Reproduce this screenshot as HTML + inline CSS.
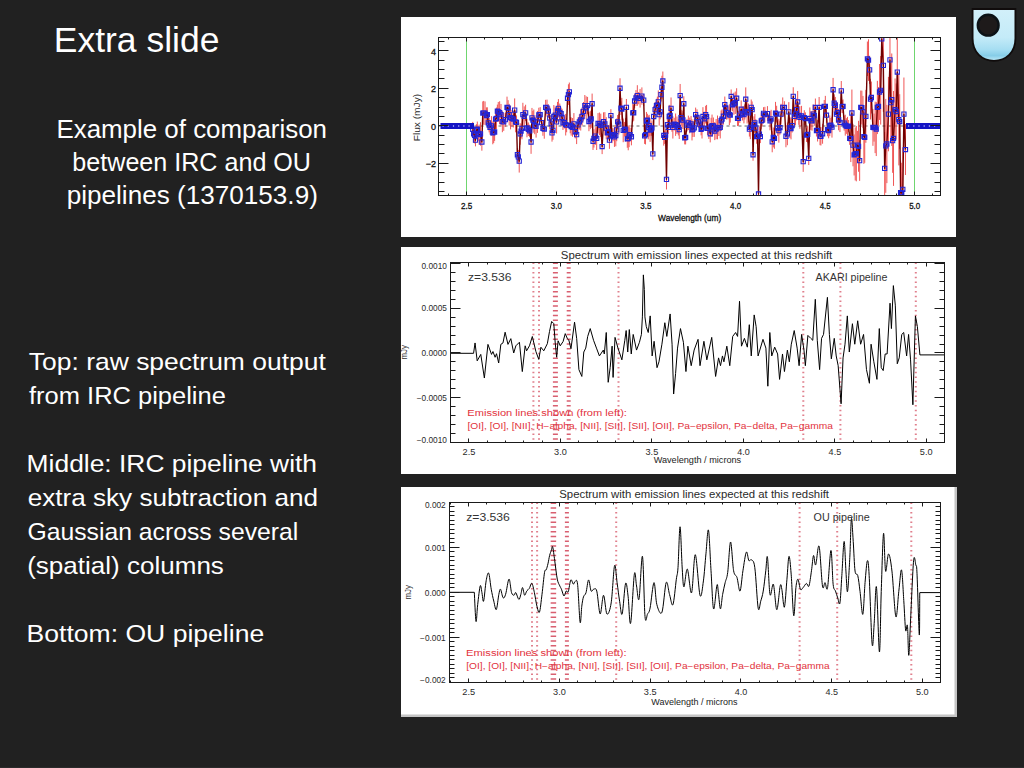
<!DOCTYPE html>
<html><head><meta charset="utf-8"><title>Extra slide</title>
<style>html,body{margin:0;padding:0;background:#212121;width:1024px;height:768px;overflow:hidden}svg{display:block}text{font-family:"Liberation Sans",sans-serif}</style>
</head><body>
<svg width="1024" height="768" viewBox="0 0 1024 768" font-family="Liberation Sans, sans-serif">
<rect width="1024" height="768" fill="#212121"/>
<rect x="0" y="767" width="1024" height="1" fill="#2b2b2b"/>
<text x="53.76" y="51.70" font-size="35" fill="#ffffff" textLength="165.66" lengthAdjust="spacingAndGlyphs" >Extra slide</text>
<text x="56.43" y="138.30" font-size="25.5" fill="#ffffff" textLength="270.54" lengthAdjust="spacingAndGlyphs" >Example of comparison</text>
<text x="72.37" y="170.90" font-size="25.5" fill="#ffffff" textLength="238.61" lengthAdjust="spacingAndGlyphs" >between IRC and OU</text>
<text x="66.70" y="203.50" font-size="25.5" fill="#ffffff" textLength="251.16" lengthAdjust="spacingAndGlyphs" >pipelines (1370153.9)</text>
<text x="28.87" y="369.70" font-size="24.8" fill="#ffffff" textLength="296.93" lengthAdjust="spacingAndGlyphs" >Top: raw spectrum output</text>
<text x="29.02" y="403.60" font-size="24.8" fill="#ffffff" textLength="196.84" lengthAdjust="spacingAndGlyphs" >from IRC pipeline</text>
<text x="26.64" y="471.60" font-size="24.8" fill="#ffffff" textLength="290.38" lengthAdjust="spacingAndGlyphs" >Middle: IRC pipeline with</text>
<text x="27.71" y="505.60" font-size="24.8" fill="#ffffff" textLength="290.29" lengthAdjust="spacingAndGlyphs" >extra sky subtraction and</text>
<text x="27.51" y="539.60" font-size="24.8" fill="#ffffff" textLength="270.80" lengthAdjust="spacingAndGlyphs" >Gaussian across several</text>
<text x="27.19" y="573.60" font-size="24.8" fill="#ffffff" textLength="196.68" lengthAdjust="spacingAndGlyphs" >(spatial) columns</text>
<text x="26.63" y="641.60" font-size="24.8" fill="#ffffff" textLength="237.54" lengthAdjust="spacingAndGlyphs" >Bottom: OU pipeline</text>
<rect x="401" y="17" width="555" height="220" fill="#ffffff"/>
<clipPath id="c1"><rect x="438.5" y="37.5" width="502.0" height="158.0"/></clipPath>
<g clip-path="url(#c1)"><line x1="466.50" y1="37.50" x2="466.50" y2="195.50" stroke="#6fd66f" stroke-width="1" /><line x1="914.50" y1="37.50" x2="914.50" y2="195.50" stroke="#6fd66f" stroke-width="1" /><line x1="438.50" y1="126.00" x2="940.50" y2="126.00" stroke="#666" stroke-width="1" stroke-dasharray="3,3"/><path d="M472.76,121.89V136.61M473.67,124.70V142.91M474.58,127.13V143.40M475.49,134.01V146.36M476.40,124.16V136.50M477.31,121.57V136.92M478.22,125.83V140.94M479.13,124.56V144.87M480.50,122.19V145.66M481.87,133.32V150.69M482.78,101.44V124.68M483.69,100.92V124.78M485.06,101.46V124.92M486.42,107.39V123.77M487.33,107.32V121.96M488.25,115.51V130.23M489.16,118.03V132.39M490.07,120.20V134.65M491.44,116.12V135.61M492.80,121.49V144.29M493.71,120.96V143.05M494.62,123.10V140.86M495.54,109.12V128.96M496.45,107.52V129.11M497.36,104.59V117.61M498.27,101.97V121.90M499.64,101.27V124.18M501.00,103.98V125.36M502.37,111.20V132.21M503.74,113.09V130.83M505.38,112.63V126.77M507.02,96.65V118.12M508.11,100.16V116.15M509.20,103.86V125.47M510.57,105.71V129.37M511.94,109.94V126.69M513.30,110.69V127.51M514.67,98.43V121.79M515.58,111.61V132.31M516.49,115.40V129.44M517.40,148.00V161.52M518.31,150.03V163.84M519.23,149.71V172.57M520.14,123.09V144.77M521.05,124.19V137.95M521.96,117.39V139.31M522.87,102.79V126.55M524.24,106.36V126.24M525.60,104.74V120.95M526.97,118.69V137.28M528.34,122.46V136.03M529.70,124.68V136.85M531.07,130.18V153.83M531.98,107.95V127.74M532.89,110.98V129.30M533.80,109.49V132.69M534.72,117.00V134.21M536.08,115.14V137.60M537.45,111.00V132.92M538.82,107.74V122.27M540.18,107.16V122.18M541.55,114.90V130.42M542.92,120.89V135.78M544.28,119.65V138.69M545.65,99.82V114.94M547.02,99.64V116.67M548.38,104.24V117.81M549.75,106.59V129.52M551.12,115.66V131.90M552.03,124.14V141.64M552.94,120.77V139.77M553.85,105.07V127.92M555.22,106.61V123.66M556.58,110.45V133.47M557.49,101.94V119.96M558.41,99.10V117.48M559.77,103.56V121.84M561.14,107.65V119.87M562.05,108.84V126.12M562.96,115.77V129.97M564.33,116.44V128.49M565.69,113.90V135.49M566.61,118.17V132.24M567.52,89.43V107.11M568.43,84.27V104.97M569.34,82.55V101.23M570.25,117.36V133.27M571.16,117.40V135.62M572.53,118.06V136.73M573.90,113.08V134.49M575.26,125.11V138.38M576.63,125.35V144.08M578.00,117.35V132.33M579.36,114.30V129.62M580.73,109.28V130.55M582.10,107.45V125.54M583.46,101.97V120.71M584.83,95.00V116.12M586.20,96.33V119.28M587.56,96.90V114.22M588.93,111.84V131.19M590.30,111.10V129.17M591.21,109.79V127.94M592.12,93.58V113.89M593.03,132.53V149.96M593.94,129.16V147.56M595.31,127.20V144.94M596.67,126.71V150.01M598.04,113.09V133.49M599.41,112.52V135.04M600.77,113.67V136.98M602.14,139.00V154.12M603.51,112.34V131.05M604.87,112.12V135.44M606.24,117.17V139.25M607.61,126.07V139.72M608.52,125.03V138.49M609.43,131.53V148.83M610.89,109.15V122.02M611.98,128.28V143.17M613.08,128.28V141.15M614.44,126.89V146.92M615.81,124.92V146.33M616.72,118.45V141.21M617.63,115.03V128.89M618.83,113.92V134.51M620.02,78.28V98.20M620.93,101.22V114.94M621.84,97.90V120.50M623.21,118.61V142.22M624.58,121.92V136.56M625.49,118.09V141.52M626.40,98.99V115.77M627.31,129.91V147.76M628.22,126.41V150.29M629.13,125.18V147.17M630.04,127.74V141.68M631.41,128.16V145.34M632.78,103.75V121.94M633.69,104.71V120.78M634.60,93.82V108.17M635.97,90.11V105.94M637.33,85.20V105.86M638.70,92.04V104.27M640.07,88.94V107.59M641.89,87.42V104.70M643.71,93.98V106.20M644.62,127.93V143.91M645.53,124.96V144.45M646.44,111.94V130.09M647.35,113.75V126.52M648.27,115.53V139.35M649.18,114.87V136.33M650.09,118.23V141.89M651.00,122.61V135.87M651.91,120.36V135.54M652.82,147.60V160.08M653.73,105.81V127.16M655.10,101.96V117.21M656.47,98.78V112.33M657.38,96.58V113.65M658.29,90.44V113.38M659.20,103.75V125.58M660.11,104.25V119.35M661.02,87.72V101.52M661.93,75.73V98.76M662.84,71.53V90.38M663.75,125.25V145.65M664.66,130.90V143.98M665.58,128.80V141.49M666.49,169.22V189.48M667.40,116.22V133.33M668.31,120.99V133.85M669.22,104.86V128.12M670.13,105.51V125.12M671.04,97.48V119.10M671.95,118.69V131.70M672.86,116.28V138.56M674.23,117.73V130.52M675.60,113.51V135.86M676.96,116.50V133.94M678.33,119.38V135.45M679.24,120.33V138.97M680.15,83.97V107.09M681.06,110.01V125.22M681.98,113.36V126.91M682.89,110.66V128.99M683.80,96.30V111.16M684.71,131.08V144.40M685.62,130.47V144.41M686.99,118.86V131.47M688.35,115.65V130.08M689.72,117.54V133.28M691.09,115.95V131.61M692.00,119.33V140.44M692.91,121.50V136.98M694.27,118.91V136.91M695.64,107.60V121.73M697.01,109.35V125.51M698.37,115.84V128.06M699.74,116.63V131.64M701.11,123.15V135.33M702.02,117.71V138.51M702.93,107.18V125.79M704.30,111.69V125.96M705.66,105.82V123.51M706.57,104.93V128.15M707.49,121.69V134.97M708.85,117.15V138.97M710.22,125.20V142.39M711.13,117.80V135.74M712.04,114.59V136.61M713.41,117.50V134.21M714.77,122.02V140.10M716.14,118.99V139.25M717.51,115.53V139.31M718.87,119.90V136.01M720.24,116.43V138.41M721.15,110.49V130.97M722.06,109.40V129.04M723.43,107.82V124.67M724.80,96.56V112.73M725.71,101.53V114.18M726.62,106.06V119.62M727.98,106.40V119.25M729.35,104.22V125.11M730.26,107.53V122.60M731.17,89.46V103.42M732.54,98.28V111.29M733.91,92.68V114.78M735.27,91.54V113.99M736.64,88.24V108.29M737.55,110.71V126.09M738.46,110.86V125.76M739.83,107.34V122.86M741.20,100.44V117.95M742.56,106.62V120.51M743.93,105.99V123.34M744.84,104.41V119.57M745.75,87.41V110.95M747.12,99.85V123.52M748.48,103.56V122.13M749.40,121.63V136.57M750.31,115.63V139.21M751.22,99.52V115.23M752.13,101.48V117.76M753.04,148.75V160.76M753.95,116.36V132.94M754.86,114.02V131.71M755.77,119.15V137.19M756.68,129.32V143.74M757.59,126.90V144.95M758.51,187.90V199.96M759.42,126.57V141.74M760.33,129.99V143.07M761.24,112.54V129.33M762.15,113.88V126.38M763.52,107.20V119.47M764.88,106.84V122.49M767.44,106.14V120.93M770.00,111.24V130.27M771.11,109.83V128.18M772.21,131.28V152.29M773.32,127.48V147.37M774.43,128.17V148.76M775.53,101.88V124.43M776.64,105.78V122.45M777.75,120.08V135.99M778.85,118.81V142.63M779.96,120.82V134.62M781.07,103.77V124.46M782.73,97.45V117.17M784.39,101.21V113.74M785.94,125.24V147.26M787.38,122.51V145.21M788.82,102.14V121.67M789.92,117.28V138.09M791.03,117.63V139.38M792.14,118.82V132.49M793.24,87.26V105.55M794.35,107.34V125.39M795.46,103.11V125.13M796.56,98.72V120.37M797.67,90.98V112.90M798.78,105.82V124.83M799.88,106.08V128.79M801.54,105.85V126.05M803.20,151.55V171.87M804.31,110.25V125.01M805.42,112.36V124.73M806.52,128.35V141.94M807.63,126.17V142.49M808.74,151.76V165.02M809.84,107.48V129.51M810.95,111.40V130.11M812.06,111.15V130.69M813.16,104.36V123.87M814.27,105.63V125.80M815.38,98.54V116.41M816.48,124.49V136.53M817.59,119.93V141.50M819.14,96.99V117.96M820.03,127.14V145.17M820.91,127.04V145.46M822.57,123.81V143.72M824.23,99.97V112.76M825.34,95.87V116.72M826.45,107.71V122.74M827.55,123.33V136.22M828.66,123.12V138.31M829.77,115.38V136.13M830.87,117.95V132.41M831.98,116.72V137.60M833.09,77.91V101.62M834.19,94.27V112.19M835.30,96.97V113.56M836.41,105.24V122.99M837.51,102.34V122.54M838.62,109.05V130.25M839.95,112.65V132.06M841.28,81.02V100.73M842.16,100.07V113.00M843.05,99.48V113.25M844.15,115.54V130.59M845.26,114.72V135.64M846.37,118.20V133.85M847.47,116.88V135.70M848.58,120.01V132.16M849.69,132.10V144.83M850.80,115.23V162.04M851.90,89.55V136.47M853.01,123.87V166.34M854.12,134.42V175.47M855.22,127.45V180.47M856.33,125.95V181.34M857.44,130.86V159.35M858.54,120.80V171.76M859.65,140.31V180.89M860.76,90.54V124.41M861.86,90.67V124.57M862.97,95.92V127.89M863.86,109.22V163.90M864.74,111.87V162.84M865.85,89.91V142.75M867.40,41.54V76.02M868.50,39.30V80.91M869.61,55.79V83.89M870.50,78.83V119.46M871.38,81.54V113.48M872.93,108.97V145.82M874.04,113.57V141.62M875.14,101.65V153.14M876.25,102.10V156.04M877.36,80.85V134.10M878.46,87.24V125.66M879.57,64.00V119.96M880.68,56.04V124.59M881.79,12.41V65.30M883.33,18.96V111.87M884.66,132.08V204.61M885.77,98.92V192.82M886.88,104.86V183.14M888.43,76.93V151.30M889.98,18.31V101.46M890.86,63.17V142.10M891.75,53.48V145.97M892.63,108.33V172.83M893.52,91.03V185.90M895.07,78.47V140.91M896.17,83.51V139.54M897.28,26.31V117.80M898.83,73.90V165.40M899.71,94.21V148.91M900.60,160.49V224.90M901.71,162.75V223.15M902.81,147.38V231.37M903.92,77.54V150.70M905.47,124.04V175.02" stroke="#ee4444" stroke-width="1" fill="none" opacity="0.9"/><polyline points="472.76,129.25 473.67,133.80 474.58,135.26 475.49,140.18 476.40,130.33 477.31,129.25 478.22,133.38 479.13,134.72 480.50,133.92 481.87,142.00 482.78,113.06 483.69,112.85 485.06,113.19 486.42,115.58 487.33,114.64 488.25,122.87 489.16,125.21 490.07,127.43 491.44,125.87 492.80,132.89 493.71,132.00 494.62,131.98 495.54,119.04 496.45,118.31 497.36,111.10 498.27,111.94 499.64,112.73 501.00,114.67 502.37,121.70 503.74,121.96 505.38,119.70 507.02,107.38 508.11,108.15 509.20,114.67 510.57,117.54 511.94,118.31 513.30,119.10 514.67,110.11 515.58,121.96 516.49,122.42 517.40,154.76 518.31,156.93 519.23,161.14 520.14,133.93 521.05,131.07 521.96,128.35 522.87,114.67 524.24,116.30 525.60,112.85 526.97,127.99 528.34,129.25 529.70,130.77 531.07,142.00 531.98,117.84 532.89,120.14 533.80,121.09 534.72,125.60 536.08,126.37 537.45,121.96 538.82,115.00 540.18,114.67 541.55,122.66 542.92,128.34 544.28,129.17 545.65,107.38 547.02,108.16 548.38,111.03 549.75,118.06 551.12,123.78 552.03,132.89 552.94,130.27 553.85,116.49 555.22,115.14 556.58,121.96 557.49,110.95 558.41,108.29 559.77,112.70 561.14,113.76 562.05,117.48 562.96,122.87 564.33,122.46 565.69,124.69 566.61,125.21 567.52,98.27 568.43,94.62 569.34,91.89 570.25,125.31 571.16,126.51 572.53,127.40 573.90,123.78 575.26,131.75 576.63,134.72 578.00,124.84 579.36,121.96 580.73,119.92 582.10,116.49 583.46,111.34 584.83,105.56 586.20,107.81 587.56,105.56 588.93,121.51 590.30,120.14 591.21,118.86 592.12,103.74 593.03,141.24 593.94,138.36 595.31,136.07 596.67,138.36 598.04,123.29 599.41,123.78 600.77,125.32 602.14,146.56 603.51,121.69 604.87,123.78 606.24,128.21 607.61,132.89 608.52,131.76 609.43,140.18 610.89,115.58 611.98,135.72 613.08,134.72 614.44,136.90 615.81,135.63 616.72,129.83 617.63,121.96 618.83,124.21 620.02,88.24 620.93,108.08 621.84,109.20 623.21,130.41 624.58,129.24 625.49,129.81 626.40,107.38 627.31,138.83 628.22,138.35 629.13,136.17 630.04,134.71 631.41,136.75 632.78,112.84 633.69,112.75 634.60,101.00 635.97,98.02 637.33,95.53 638.70,98.15 640.07,98.27 641.89,96.06 643.71,100.09 644.62,135.92 645.53,134.71 646.44,121.01 647.35,120.13 648.27,127.44 649.18,125.60 650.09,130.06 651.00,129.24 651.91,127.95 652.82,153.84 653.73,116.49 655.10,109.59 656.47,105.55 657.38,105.11 658.29,101.91 659.20,114.66 660.11,111.80 661.02,94.62 661.93,87.24 662.84,80.95 663.75,135.45 664.66,137.44 665.58,135.14 666.49,179.35 667.40,124.77 668.31,127.42 669.22,116.49 670.13,115.32 671.04,108.29 671.95,125.20 672.86,127.42 674.23,124.12 675.60,124.69 676.96,125.22 678.33,127.42 679.24,129.65 680.15,95.53 681.06,117.61 681.98,120.13 682.89,119.83 683.80,103.73 684.71,137.74 685.62,137.44 686.99,125.16 688.35,122.86 689.72,125.41 691.09,123.78 692.00,129.89 692.91,129.24 694.27,127.91 695.64,114.66 697.01,117.43 698.37,121.95 699.74,124.13 701.11,129.24 702.02,128.11 702.93,116.49 704.30,118.82 705.66,114.66 706.57,116.54 707.49,128.33 708.85,128.06 710.22,133.80 711.13,126.77 712.04,125.60 713.41,125.86 714.77,131.06 716.14,129.12 717.51,127.42 718.87,127.95 720.24,127.42 721.15,120.73 722.06,119.22 723.43,116.24 724.80,104.64 725.71,107.86 726.62,112.84 727.98,112.83 729.35,114.66 730.26,115.06 731.17,96.44 732.54,104.79 733.91,103.73 735.27,102.77 736.64,98.27 737.55,118.40 738.46,118.31 739.83,115.10 741.20,109.20 742.56,113.57 743.93,114.66 744.84,111.99 745.75,99.18 747.12,111.68 748.48,112.84 749.40,129.10 750.31,127.42 751.22,107.38 752.13,109.62 753.04,154.75 753.95,124.65 754.86,122.86 755.77,128.17 756.68,136.53 757.59,135.92 758.51,193.93 759.42,134.15 760.33,136.53 761.24,120.94 762.15,120.13 763.52,113.34 764.88,114.66 767.44,113.53 770.00,120.76 771.11,119.01 772.21,141.79 773.32,137.43 774.43,138.46 775.53,113.16 776.64,114.12 777.75,128.03 778.85,130.72 779.96,127.72 781.07,114.12 782.73,107.31 784.39,107.47 785.94,136.25 787.38,133.86 788.82,111.90 789.92,127.69 791.03,128.50 792.14,125.66 793.24,96.41 794.35,116.36 795.46,114.12 796.56,109.55 797.67,101.94 798.78,115.33 799.88,117.44 801.54,115.95 803.20,161.71 804.31,117.63 805.42,118.54 806.52,135.14 807.63,134.33 808.74,158.39 809.84,118.49 810.95,120.76 812.06,120.92 813.16,114.12 814.27,115.72 815.38,107.47 816.48,130.51 817.59,130.72 819.14,107.47 820.03,136.15 820.91,136.25 822.57,133.77 824.23,106.37 825.34,106.29 826.45,115.22 827.55,129.77 828.66,130.72 829.77,125.76 830.87,125.18 831.98,127.16 833.09,89.77 834.19,103.23 835.30,105.26 836.41,114.12 837.51,112.44 838.62,119.65 839.95,122.36 841.28,90.87 842.16,106.54 843.05,106.37 844.15,123.06 845.26,125.18 846.37,126.02 847.47,126.29 848.58,126.08 849.69,138.46 850.80,138.63 851.90,113.01 853.01,145.11 854.12,154.95 855.22,153.96 856.33,153.64 857.44,145.11 858.54,146.28 859.65,160.60 860.76,107.47 861.86,107.62 862.97,111.90 863.86,136.56 864.74,137.36 865.85,116.33 867.40,58.78 868.50,60.10 869.61,69.84 870.50,99.15 871.38,97.51 872.93,127.40 874.04,127.59 875.14,127.40 876.25,129.07 877.36,107.47 878.46,106.45 879.57,91.98 880.68,90.32 881.79,38.85 883.33,65.42 884.66,168.35 885.77,145.87 886.88,144.00 888.43,114.12 889.98,59.88 890.86,102.64 891.75,99.73 892.63,140.58 893.52,138.46 895.07,109.69 896.17,111.52 897.28,72.06 898.83,119.65 899.71,121.56 900.60,192.70 901.71,192.95 902.81,189.38 903.92,114.12 905.47,149.53" fill="none" stroke="#700000" stroke-width="1.4" stroke-linejoin="round" /><path d="M470.66,127.15h4.2v4.2h-4.2zM471.57,131.70h4.2v4.2h-4.2zM472.48,133.16h4.2v4.2h-4.2zM473.39,138.08h4.2v4.2h-4.2zM474.30,128.23h4.2v4.2h-4.2zM475.21,127.15h4.2v4.2h-4.2zM476.12,131.28h4.2v4.2h-4.2zM477.03,132.62h4.2v4.2h-4.2zM478.40,131.82h4.2v4.2h-4.2zM479.77,139.90h4.2v4.2h-4.2zM480.68,110.96h4.2v4.2h-4.2zM481.59,110.75h4.2v4.2h-4.2zM482.96,111.09h4.2v4.2h-4.2zM484.32,113.48h4.2v4.2h-4.2zM485.23,112.54h4.2v4.2h-4.2zM486.15,120.77h4.2v4.2h-4.2zM487.06,123.11h4.2v4.2h-4.2zM487.97,125.33h4.2v4.2h-4.2zM489.34,123.77h4.2v4.2h-4.2zM490.70,130.79h4.2v4.2h-4.2zM491.61,129.90h4.2v4.2h-4.2zM492.52,129.88h4.2v4.2h-4.2zM493.44,116.94h4.2v4.2h-4.2zM494.35,116.21h4.2v4.2h-4.2zM495.26,109.00h4.2v4.2h-4.2zM496.17,109.84h4.2v4.2h-4.2zM497.54,110.63h4.2v4.2h-4.2zM498.90,112.57h4.2v4.2h-4.2zM500.27,119.60h4.2v4.2h-4.2zM501.64,119.86h4.2v4.2h-4.2zM503.28,117.60h4.2v4.2h-4.2zM504.92,105.28h4.2v4.2h-4.2zM506.01,106.05h4.2v4.2h-4.2zM507.10,112.57h4.2v4.2h-4.2zM508.47,115.44h4.2v4.2h-4.2zM509.84,116.21h4.2v4.2h-4.2zM511.20,117.00h4.2v4.2h-4.2zM512.57,108.01h4.2v4.2h-4.2zM513.48,119.86h4.2v4.2h-4.2zM514.39,120.32h4.2v4.2h-4.2zM515.30,152.66h4.2v4.2h-4.2zM516.21,154.83h4.2v4.2h-4.2zM517.13,159.04h4.2v4.2h-4.2zM518.04,131.83h4.2v4.2h-4.2zM518.95,128.97h4.2v4.2h-4.2zM519.86,126.25h4.2v4.2h-4.2zM520.77,112.57h4.2v4.2h-4.2zM522.14,114.20h4.2v4.2h-4.2zM523.50,110.75h4.2v4.2h-4.2zM524.87,125.89h4.2v4.2h-4.2zM526.24,127.15h4.2v4.2h-4.2zM527.60,128.67h4.2v4.2h-4.2zM528.97,139.90h4.2v4.2h-4.2zM529.88,115.74h4.2v4.2h-4.2zM530.79,118.04h4.2v4.2h-4.2zM531.70,118.99h4.2v4.2h-4.2zM532.62,123.50h4.2v4.2h-4.2zM533.98,124.27h4.2v4.2h-4.2zM535.35,119.86h4.2v4.2h-4.2zM536.72,112.90h4.2v4.2h-4.2zM538.08,112.57h4.2v4.2h-4.2zM539.45,120.56h4.2v4.2h-4.2zM540.82,126.24h4.2v4.2h-4.2zM542.18,127.07h4.2v4.2h-4.2zM543.55,105.28h4.2v4.2h-4.2zM544.92,106.06h4.2v4.2h-4.2zM546.28,108.93h4.2v4.2h-4.2zM547.65,115.96h4.2v4.2h-4.2zM549.02,121.68h4.2v4.2h-4.2zM549.93,130.79h4.2v4.2h-4.2zM550.84,128.17h4.2v4.2h-4.2zM551.75,114.39h4.2v4.2h-4.2zM553.12,113.04h4.2v4.2h-4.2zM554.48,119.86h4.2v4.2h-4.2zM555.39,108.85h4.2v4.2h-4.2zM556.31,106.19h4.2v4.2h-4.2zM557.67,110.60h4.2v4.2h-4.2zM559.04,111.66h4.2v4.2h-4.2zM559.95,115.38h4.2v4.2h-4.2zM560.86,120.77h4.2v4.2h-4.2zM562.23,120.36h4.2v4.2h-4.2zM563.59,122.59h4.2v4.2h-4.2zM564.51,123.11h4.2v4.2h-4.2zM565.42,96.17h4.2v4.2h-4.2zM566.33,92.52h4.2v4.2h-4.2zM567.24,89.79h4.2v4.2h-4.2zM568.15,123.21h4.2v4.2h-4.2zM569.06,124.41h4.2v4.2h-4.2zM570.43,125.30h4.2v4.2h-4.2zM571.80,121.68h4.2v4.2h-4.2zM573.16,129.65h4.2v4.2h-4.2zM574.53,132.62h4.2v4.2h-4.2zM575.90,122.74h4.2v4.2h-4.2zM577.26,119.86h4.2v4.2h-4.2zM578.63,117.82h4.2v4.2h-4.2zM580.00,114.39h4.2v4.2h-4.2zM581.36,109.24h4.2v4.2h-4.2zM582.73,103.46h4.2v4.2h-4.2zM584.10,105.71h4.2v4.2h-4.2zM585.46,103.46h4.2v4.2h-4.2zM586.83,119.41h4.2v4.2h-4.2zM588.20,118.04h4.2v4.2h-4.2zM589.11,116.76h4.2v4.2h-4.2zM590.02,101.64h4.2v4.2h-4.2zM590.93,139.14h4.2v4.2h-4.2zM591.84,136.26h4.2v4.2h-4.2zM593.21,133.97h4.2v4.2h-4.2zM594.57,136.26h4.2v4.2h-4.2zM595.94,121.19h4.2v4.2h-4.2zM597.31,121.68h4.2v4.2h-4.2zM598.67,123.22h4.2v4.2h-4.2zM600.04,144.46h4.2v4.2h-4.2zM601.41,119.59h4.2v4.2h-4.2zM602.77,121.68h4.2v4.2h-4.2zM604.14,126.11h4.2v4.2h-4.2zM605.51,130.79h4.2v4.2h-4.2zM606.42,129.66h4.2v4.2h-4.2zM607.33,138.08h4.2v4.2h-4.2zM608.79,113.48h4.2v4.2h-4.2zM609.88,133.62h4.2v4.2h-4.2zM610.98,132.62h4.2v4.2h-4.2zM612.34,134.80h4.2v4.2h-4.2zM613.71,133.53h4.2v4.2h-4.2zM614.62,127.73h4.2v4.2h-4.2zM615.53,119.86h4.2v4.2h-4.2zM616.73,122.11h4.2v4.2h-4.2zM617.92,86.14h4.2v4.2h-4.2zM618.83,105.98h4.2v4.2h-4.2zM619.74,107.10h4.2v4.2h-4.2zM621.11,128.31h4.2v4.2h-4.2zM622.48,127.14h4.2v4.2h-4.2zM623.39,127.71h4.2v4.2h-4.2zM624.30,105.28h4.2v4.2h-4.2zM625.21,136.73h4.2v4.2h-4.2zM626.12,136.25h4.2v4.2h-4.2zM627.03,134.07h4.2v4.2h-4.2zM627.94,132.61h4.2v4.2h-4.2zM629.31,134.65h4.2v4.2h-4.2zM630.68,110.74h4.2v4.2h-4.2zM631.59,110.65h4.2v4.2h-4.2zM632.50,98.90h4.2v4.2h-4.2zM633.87,95.92h4.2v4.2h-4.2zM635.23,93.43h4.2v4.2h-4.2zM636.60,96.05h4.2v4.2h-4.2zM637.97,96.17h4.2v4.2h-4.2zM639.79,93.96h4.2v4.2h-4.2zM641.61,97.99h4.2v4.2h-4.2zM642.52,133.82h4.2v4.2h-4.2zM643.43,132.61h4.2v4.2h-4.2zM644.34,118.91h4.2v4.2h-4.2zM645.25,118.03h4.2v4.2h-4.2zM646.17,125.34h4.2v4.2h-4.2zM647.08,123.50h4.2v4.2h-4.2zM647.99,127.96h4.2v4.2h-4.2zM648.90,127.14h4.2v4.2h-4.2zM649.81,125.85h4.2v4.2h-4.2zM650.72,151.74h4.2v4.2h-4.2zM651.63,114.39h4.2v4.2h-4.2zM653.00,107.49h4.2v4.2h-4.2zM654.37,103.45h4.2v4.2h-4.2zM655.28,103.01h4.2v4.2h-4.2zM656.19,99.81h4.2v4.2h-4.2zM657.10,112.56h4.2v4.2h-4.2zM658.01,109.70h4.2v4.2h-4.2zM658.92,92.52h4.2v4.2h-4.2zM659.83,85.14h4.2v4.2h-4.2zM660.74,78.85h4.2v4.2h-4.2zM661.65,133.35h4.2v4.2h-4.2zM662.56,135.34h4.2v4.2h-4.2zM663.48,133.04h4.2v4.2h-4.2zM664.39,177.25h4.2v4.2h-4.2zM665.30,122.67h4.2v4.2h-4.2zM666.21,125.32h4.2v4.2h-4.2zM667.12,114.39h4.2v4.2h-4.2zM668.03,113.22h4.2v4.2h-4.2zM668.94,106.19h4.2v4.2h-4.2zM669.85,123.10h4.2v4.2h-4.2zM670.76,125.32h4.2v4.2h-4.2zM672.13,122.02h4.2v4.2h-4.2zM673.50,122.59h4.2v4.2h-4.2zM674.86,123.12h4.2v4.2h-4.2zM676.23,125.32h4.2v4.2h-4.2zM677.14,127.55h4.2v4.2h-4.2zM678.05,93.43h4.2v4.2h-4.2zM678.96,115.51h4.2v4.2h-4.2zM679.88,118.03h4.2v4.2h-4.2zM680.79,117.73h4.2v4.2h-4.2zM681.70,101.63h4.2v4.2h-4.2zM682.61,135.64h4.2v4.2h-4.2zM683.52,135.34h4.2v4.2h-4.2zM684.89,123.06h4.2v4.2h-4.2zM686.25,120.76h4.2v4.2h-4.2zM687.62,123.31h4.2v4.2h-4.2zM688.99,121.68h4.2v4.2h-4.2zM689.90,127.79h4.2v4.2h-4.2zM690.81,127.14h4.2v4.2h-4.2zM692.17,125.81h4.2v4.2h-4.2zM693.54,112.56h4.2v4.2h-4.2zM694.91,115.33h4.2v4.2h-4.2zM696.27,119.85h4.2v4.2h-4.2zM697.64,122.03h4.2v4.2h-4.2zM699.01,127.14h4.2v4.2h-4.2zM699.92,126.01h4.2v4.2h-4.2zM700.83,114.39h4.2v4.2h-4.2zM702.20,116.72h4.2v4.2h-4.2zM703.56,112.56h4.2v4.2h-4.2zM704.47,114.44h4.2v4.2h-4.2zM705.39,126.23h4.2v4.2h-4.2zM706.75,125.96h4.2v4.2h-4.2zM708.12,131.70h4.2v4.2h-4.2zM709.03,124.67h4.2v4.2h-4.2zM709.94,123.50h4.2v4.2h-4.2zM711.31,123.76h4.2v4.2h-4.2zM712.67,128.96h4.2v4.2h-4.2zM714.04,127.02h4.2v4.2h-4.2zM715.41,125.32h4.2v4.2h-4.2zM716.77,125.85h4.2v4.2h-4.2zM718.14,125.32h4.2v4.2h-4.2zM719.05,118.63h4.2v4.2h-4.2zM719.96,117.12h4.2v4.2h-4.2zM721.33,114.14h4.2v4.2h-4.2zM722.70,102.54h4.2v4.2h-4.2zM723.61,105.76h4.2v4.2h-4.2zM724.52,110.74h4.2v4.2h-4.2zM725.88,110.73h4.2v4.2h-4.2zM727.25,112.56h4.2v4.2h-4.2zM728.16,112.96h4.2v4.2h-4.2zM729.07,94.34h4.2v4.2h-4.2zM730.44,102.69h4.2v4.2h-4.2zM731.81,101.63h4.2v4.2h-4.2zM733.17,100.67h4.2v4.2h-4.2zM734.54,96.17h4.2v4.2h-4.2zM735.45,116.30h4.2v4.2h-4.2zM736.36,116.21h4.2v4.2h-4.2zM737.73,113.00h4.2v4.2h-4.2zM739.10,107.10h4.2v4.2h-4.2zM740.46,111.47h4.2v4.2h-4.2zM741.83,112.56h4.2v4.2h-4.2zM742.74,109.89h4.2v4.2h-4.2zM743.65,97.08h4.2v4.2h-4.2zM745.02,109.58h4.2v4.2h-4.2zM746.38,110.74h4.2v4.2h-4.2zM747.30,127.00h4.2v4.2h-4.2zM748.21,125.32h4.2v4.2h-4.2zM749.12,105.28h4.2v4.2h-4.2zM750.03,107.52h4.2v4.2h-4.2zM750.94,152.65h4.2v4.2h-4.2zM751.85,122.55h4.2v4.2h-4.2zM752.76,120.76h4.2v4.2h-4.2zM753.67,126.07h4.2v4.2h-4.2zM754.58,134.43h4.2v4.2h-4.2zM755.49,133.82h4.2v4.2h-4.2zM756.41,191.83h4.2v4.2h-4.2zM757.32,132.05h4.2v4.2h-4.2zM758.23,134.43h4.2v4.2h-4.2zM759.14,118.84h4.2v4.2h-4.2zM760.05,118.03h4.2v4.2h-4.2zM761.42,111.24h4.2v4.2h-4.2zM762.78,112.56h4.2v4.2h-4.2zM765.34,111.43h4.2v4.2h-4.2zM767.90,118.66h4.2v4.2h-4.2zM769.01,116.91h4.2v4.2h-4.2zM770.11,139.69h4.2v4.2h-4.2zM771.22,135.33h4.2v4.2h-4.2zM772.33,136.36h4.2v4.2h-4.2zM773.43,111.06h4.2v4.2h-4.2zM774.54,112.02h4.2v4.2h-4.2zM775.65,125.93h4.2v4.2h-4.2zM776.75,128.62h4.2v4.2h-4.2zM777.86,125.62h4.2v4.2h-4.2zM778.97,112.02h4.2v4.2h-4.2zM780.63,105.21h4.2v4.2h-4.2zM782.29,105.37h4.2v4.2h-4.2zM783.84,134.15h4.2v4.2h-4.2zM785.28,131.76h4.2v4.2h-4.2zM786.72,109.80h4.2v4.2h-4.2zM787.82,125.59h4.2v4.2h-4.2zM788.93,126.40h4.2v4.2h-4.2zM790.04,123.56h4.2v4.2h-4.2zM791.14,94.31h4.2v4.2h-4.2zM792.25,114.26h4.2v4.2h-4.2zM793.36,112.02h4.2v4.2h-4.2zM794.46,107.45h4.2v4.2h-4.2zM795.57,99.84h4.2v4.2h-4.2zM796.68,113.23h4.2v4.2h-4.2zM797.78,115.34h4.2v4.2h-4.2zM799.44,113.85h4.2v4.2h-4.2zM801.10,159.61h4.2v4.2h-4.2zM802.21,115.53h4.2v4.2h-4.2zM803.32,116.44h4.2v4.2h-4.2zM804.42,133.04h4.2v4.2h-4.2zM805.53,132.23h4.2v4.2h-4.2zM806.64,156.29h4.2v4.2h-4.2zM807.74,116.39h4.2v4.2h-4.2zM808.85,118.66h4.2v4.2h-4.2zM809.96,118.82h4.2v4.2h-4.2zM811.06,112.02h4.2v4.2h-4.2zM812.17,113.62h4.2v4.2h-4.2zM813.28,105.37h4.2v4.2h-4.2zM814.38,128.41h4.2v4.2h-4.2zM815.49,128.62h4.2v4.2h-4.2zM817.04,105.37h4.2v4.2h-4.2zM817.93,134.05h4.2v4.2h-4.2zM818.81,134.15h4.2v4.2h-4.2zM820.47,131.67h4.2v4.2h-4.2zM822.13,104.27h4.2v4.2h-4.2zM823.24,104.19h4.2v4.2h-4.2zM824.35,113.12h4.2v4.2h-4.2zM825.45,127.67h4.2v4.2h-4.2zM826.56,128.62h4.2v4.2h-4.2zM827.67,123.66h4.2v4.2h-4.2zM828.77,123.08h4.2v4.2h-4.2zM829.88,125.06h4.2v4.2h-4.2zM830.99,87.67h4.2v4.2h-4.2zM832.09,101.13h4.2v4.2h-4.2zM833.20,103.16h4.2v4.2h-4.2zM834.31,112.02h4.2v4.2h-4.2zM835.41,110.34h4.2v4.2h-4.2zM836.52,117.55h4.2v4.2h-4.2zM837.85,120.26h4.2v4.2h-4.2zM839.18,88.77h4.2v4.2h-4.2zM840.06,104.44h4.2v4.2h-4.2zM840.95,104.27h4.2v4.2h-4.2zM842.05,120.96h4.2v4.2h-4.2zM843.16,123.08h4.2v4.2h-4.2zM844.27,123.92h4.2v4.2h-4.2zM845.37,124.19h4.2v4.2h-4.2zM846.48,123.98h4.2v4.2h-4.2zM847.59,136.36h4.2v4.2h-4.2zM848.70,136.53h4.2v4.2h-4.2zM849.80,110.91h4.2v4.2h-4.2zM850.91,143.01h4.2v4.2h-4.2zM852.02,152.85h4.2v4.2h-4.2zM853.12,151.86h4.2v4.2h-4.2zM854.23,151.54h4.2v4.2h-4.2zM855.34,143.01h4.2v4.2h-4.2zM856.44,144.18h4.2v4.2h-4.2zM857.55,158.50h4.2v4.2h-4.2zM858.66,105.37h4.2v4.2h-4.2zM859.76,105.52h4.2v4.2h-4.2zM860.87,109.80h4.2v4.2h-4.2zM861.76,134.46h4.2v4.2h-4.2zM862.64,135.26h4.2v4.2h-4.2zM863.75,114.23h4.2v4.2h-4.2zM865.30,56.68h4.2v4.2h-4.2zM866.40,58.00h4.2v4.2h-4.2zM867.51,67.74h4.2v4.2h-4.2zM868.40,97.05h4.2v4.2h-4.2zM869.28,95.41h4.2v4.2h-4.2zM870.83,125.30h4.2v4.2h-4.2zM871.94,125.49h4.2v4.2h-4.2zM873.04,125.30h4.2v4.2h-4.2zM874.15,126.97h4.2v4.2h-4.2zM875.26,105.37h4.2v4.2h-4.2zM876.36,104.35h4.2v4.2h-4.2zM877.47,89.88h4.2v4.2h-4.2zM878.58,88.22h4.2v4.2h-4.2zM879.69,36.75h4.2v4.2h-4.2zM881.23,63.32h4.2v4.2h-4.2zM882.56,166.25h4.2v4.2h-4.2zM883.67,143.77h4.2v4.2h-4.2zM884.78,141.90h4.2v4.2h-4.2zM886.33,112.02h4.2v4.2h-4.2zM887.88,57.78h4.2v4.2h-4.2zM888.76,100.54h4.2v4.2h-4.2zM889.65,97.63h4.2v4.2h-4.2zM890.53,138.48h4.2v4.2h-4.2zM891.42,136.36h4.2v4.2h-4.2zM892.97,107.59h4.2v4.2h-4.2zM894.07,109.42h4.2v4.2h-4.2zM895.18,69.96h4.2v4.2h-4.2zM896.73,117.55h4.2v4.2h-4.2zM897.61,119.46h4.2v4.2h-4.2zM898.50,190.60h4.2v4.2h-4.2zM899.61,190.85h4.2v4.2h-4.2zM900.71,187.28h4.2v4.2h-4.2zM901.82,112.02h4.2v4.2h-4.2zM903.37,147.43h4.2v4.2h-4.2z" stroke="#2424d4" stroke-width="1.1" fill="none"/><rect x="440.5" y="123" width="33.5" height="6" fill="#1414c4"/><rect x="442.5" y="125.3" width="1.2" height="1.4" fill="#b8b8ff"/><rect x="447.7" y="125.3" width="1.2" height="1.4" fill="#b8b8ff"/><rect x="452.9" y="125.3" width="1.2" height="1.4" fill="#b8b8ff"/><rect x="458.1" y="125.3" width="1.2" height="1.4" fill="#b8b8ff"/><rect x="463.3" y="125.3" width="1.2" height="1.4" fill="#b8b8ff"/><rect x="468.5" y="125.3" width="1.2" height="1.4" fill="#b8b8ff"/><rect x="906.0" y="123" width="34.0" height="6" fill="#1414c4"/><rect x="908.0" y="125.3" width="1.2" height="1.4" fill="#b8b8ff"/><rect x="913.2" y="125.3" width="1.2" height="1.4" fill="#b8b8ff"/><rect x="918.4" y="125.3" width="1.2" height="1.4" fill="#b8b8ff"/><rect x="923.6" y="125.3" width="1.2" height="1.4" fill="#b8b8ff"/><rect x="928.8" y="125.3" width="1.2" height="1.4" fill="#b8b8ff"/><rect x="934.0" y="125.3" width="1.2" height="1.4" fill="#b8b8ff"/></g>
<rect x="438.5" y="37.5" width="502.0" height="158.0" fill="none" stroke="#1a1a1a" stroke-width="1"/>
<path d="M448.5,195.5v-2M448.5,37.5v2M466.5,195.5v-4M466.5,37.5v4M484.5,195.5v-2M484.5,37.5v2M502.5,195.5v-2M502.5,37.5v2M520.5,195.5v-2M520.5,37.5v2M538.5,195.5v-2M538.5,37.5v2M556.5,195.5v-4M556.5,37.5v4M574.5,195.5v-2M574.5,37.5v2M592.5,195.5v-2M592.5,37.5v2M610.5,195.5v-2M610.5,37.5v2M627.5,195.5v-2M627.5,37.5v2M645.5,195.5v-4M645.5,37.5v4M663.5,195.5v-2M663.5,37.5v2M681.5,195.5v-2M681.5,37.5v2M699.5,195.5v-2M699.5,37.5v2M717.5,195.5v-2M717.5,37.5v2M735.5,195.5v-4M735.5,37.5v4M753.5,195.5v-2M753.5,37.5v2M771.5,195.5v-2M771.5,37.5v2M789.5,195.5v-2M789.5,37.5v2M807.5,195.5v-2M807.5,37.5v2M825.5,195.5v-4M825.5,37.5v4M843.5,195.5v-2M843.5,37.5v2M860.5,195.5v-2M860.5,37.5v2M878.5,195.5v-2M878.5,37.5v2M896.5,195.5v-2M896.5,37.5v2M914.5,195.5v-4M914.5,37.5v4M932.5,195.5v-2M932.5,37.5v2" stroke="#1a1a1a" stroke-width="1" fill="none"/>
<path d="M438.5,191.5h6M940.5,191.5h-6M438.5,182.5h6M940.5,182.5h-6M438.5,172.5h6M940.5,172.5h-6M438.5,163.5h10M940.5,163.5h-10M438.5,153.5h6M940.5,153.5h-6M438.5,144.5h6M940.5,144.5h-6M438.5,135.5h6M940.5,135.5h-6M438.5,125.5h10M940.5,125.5h-10M438.5,116.5h6M940.5,116.5h-6M438.5,107.5h6M940.5,107.5h-6M438.5,97.5h6M940.5,97.5h-6M438.5,88.5h10M940.5,88.5h-10M438.5,78.5h6M940.5,78.5h-6M438.5,69.5h6M940.5,69.5h-6M438.5,60.5h6M940.5,60.5h-6M438.5,50.5h10M940.5,50.5h-10M438.5,41.5h6M940.5,41.5h-6" stroke="#1a1a1a" stroke-width="1" fill="none"/>
<text x="430.88" y="54.90" font-size="9" fill="#111" textLength="5.01" lengthAdjust="spacingAndGlyphs" stroke="#111" stroke-width="0.3">4</text>
<text x="431.06" y="92.45" font-size="9" fill="#111" textLength="5.01" lengthAdjust="spacingAndGlyphs" stroke="#111" stroke-width="0.3">2</text>
<text x="430.92" y="129.91" font-size="9" fill="#111" textLength="5.01" lengthAdjust="spacingAndGlyphs" stroke="#111" stroke-width="0.3">0</text>
<text x="425.79" y="167.45" font-size="9" fill="#111" textLength="10.26" lengthAdjust="spacingAndGlyphs" stroke="#111" stroke-width="0.3">−2</text>
<text x="461.05" y="209.10" font-size="9" fill="#111" textLength="11.23" lengthAdjust="spacingAndGlyphs" stroke="#111" stroke-width="0.3">2.5</text>
<text x="550.73" y="209.10" font-size="9" fill="#111" textLength="11.10" lengthAdjust="spacingAndGlyphs" stroke="#111" stroke-width="0.3">3.0</text>
<text x="640.33" y="209.10" font-size="9" fill="#111" textLength="11.14" lengthAdjust="spacingAndGlyphs" stroke="#111" stroke-width="0.3">3.5</text>
<text x="730.09" y="209.10" font-size="9" fill="#111" textLength="10.93" lengthAdjust="spacingAndGlyphs" stroke="#111" stroke-width="0.3">4.0</text>
<text x="819.69" y="209.06" font-size="9" fill="#111" textLength="10.97" lengthAdjust="spacingAndGlyphs" stroke="#111" stroke-width="0.3">4.5</text>
<text x="909.13" y="209.10" font-size="9" fill="#111" textLength="11.10" lengthAdjust="spacingAndGlyphs" stroke="#111" stroke-width="0.3">5.0</text>
<text x="658.11" y="220.92" font-size="9" fill="#111" textLength="63.06" lengthAdjust="spacingAndGlyphs" stroke="#111" stroke-width="0.3">Wavelength (um)</text>
<g transform="rotate(-90 419.62 117.50)"><text x="395.80" y="117.50" font-size="9" fill="#2a2a2a" textLength="47.44" lengthAdjust="spacingAndGlyphs" >Flux (mJy)</text></g>
<rect x="401" y="247" width="555" height="227" fill="#ffffff"/>
<clipPath id="c2"><rect x="450.5" y="262.5" width="494.0" height="180.0"/></clipPath>
<g clip-path="url(#c2)"><path d="M533.4,262.5V442.5" stroke="#cc2a40" stroke-width="2" stroke-dasharray="1.4,3.35" opacity="0.6"/><path d="M539,262.5V442.5" stroke="#cc2a40" stroke-width="2" stroke-dasharray="1.4,3.35" opacity="0.6"/><path d="M555.4,262.5V442.5" stroke="#cc2a40" stroke-width="5" stroke-dasharray="1.4,3.35" opacity="0.75"/><path d="M568.7,262.5V442.5" stroke="#cc2a40" stroke-width="4" stroke-dasharray="1.4,3.35" opacity="0.75"/><path d="M618.5,262.5V442.5" stroke="#cc2a40" stroke-width="2" stroke-dasharray="1.4,3.35" opacity="0.6"/><path d="M803.3,262.5V442.5" stroke="#cc2a40" stroke-width="2" stroke-dasharray="1.4,3.35" opacity="0.6"/><path d="M840.4,262.5V442.5" stroke="#cc2a40" stroke-width="2" stroke-dasharray="1.4,3.35" opacity="0.6"/><path d="M915.8,262.5V442.5" stroke="#cc2a40" stroke-width="2" stroke-dasharray="1.4,3.35" opacity="0.6"/><polyline points="450.50,353.30 473.62,353.30 473.62,352.97 475.05,342.95 477.20,360.84 480.78,354.40 484.36,378.02 487.94,344.38 491.52,354.40 492.95,351.54 495.10,357.27 496.53,353.69 498.68,362.99 500.82,344.38 502.97,342.95 505.12,332.21 507.98,344.38 510.84,338.65 513.71,352.97 515.86,345.81 519.43,342.23 522.30,371.58 525.16,345.81 526.59,350.82 529.46,345.81 532.32,336.51 535.90,351.54 538.76,359.41 540.91,347.24 543.77,350.82 547.35,343.66 549.50,331.50 551.65,321.47 553.79,323.62 555.23,342.95 556.66,357.27 558.09,340.80 560.24,345.81 563.10,341.52 565.25,333.64 567.39,338.65 568.83,340.09 570.97,348.68 574.55,322.19 576.70,338.65 578.91,369.61 581.84,376.45 583.79,352.03 585.74,348.12 587.70,336.41 590.23,328.59 593.55,340.31 596.48,348.12 599.41,355.94 603.32,350.08 604.30,353.98 606.25,332.50 608.20,382.30 610.16,367.66 612.11,346.17 613.09,377.42 615.04,337.38 617.97,348.12 621.88,359.84 624.80,340.31 626.17,330.55 627.73,352.03 629.30,329.57 631.25,353.98 633.20,334.45 636.52,350.08 639.45,342.27 641.41,334.45 642.38,316.88 643.36,274.88 644.34,289.53 644.92,316.88 646.29,326.64 648.24,332.50 650.20,315.90 652.15,355.94 654.10,341.29 657.03,367.66 658.98,361.80 661.91,344.22 664.84,322.73 666.80,336.41 670.12,313.95 672.07,344.22 673.63,394.02 675.59,373.52 677.54,348.12 680.47,328.59 683.40,342.27 685.94,371.56 687.89,346.17 691.21,365.70 694.14,350.08 698.05,339.34 700.00,365.70 703.91,341.29 706.84,359.84 711.72,337.38 715.62,376.45 718.55,357.89 720.51,365.70 722.46,355.94 723.91,361.80 726.84,346.17 729.77,365.70 732.70,336.41 735.62,332.50 737.58,336.41 739.53,301.25 741.48,346.17 744.41,338.36 747.34,347.15 749.30,324.69 751.25,355.94 754.18,314.92 756.13,326.64 758.09,355.94 762.97,339.34 765.90,348.12 767.85,386.21 769.80,332.50 771.76,355.94 774.69,347.15 777.62,353.98 779.57,379.38 782.50,353.98 784.45,371.56 787.38,350.08 789.34,361.80 791.29,344.22 794.22,330.55 797.15,348.12 799.10,365.70 801.64,334.45 803.98,350.08 805.35,365.70 807.89,335.43 810.82,338.36 812.77,340.31 815.31,299.30 817.27,340.31 819.61,369.61 821.56,338.36 823.52,334.45 827.42,297.34 829.38,334.45 831.33,358.87 834.26,338.36 836.21,355.94 838.16,365.70 841.09,403.79 843.05,357.89 845.00,344.22 847.34,315.90 849.30,352.03 852.42,323.71 854.77,344.22 857.70,320.78 860.62,344.22 863.55,334.45 866.48,369.61 869.41,383.28 871.09,344.22 873.83,361.80 876.95,379.38 879.30,328.59 881.25,367.66 883.20,370.59 885.16,353.98 887.11,353.98 890.04,303.20 891.41,328.59 893.36,285.62 895.31,305.16 897.27,363.75 899.22,357.89 901.76,334.45 903.71,332.50 906.64,355.94 908.59,334.45 910.55,359.84 912.89,404.77 915.43,315.90 917.38,326.64 919.92,354.96 919.92,354.90 944.50,354.90" fill="none" stroke="#000" stroke-width="1" stroke-linejoin="round" /></g>
<rect x="450.5" y="262.5" width="494.0" height="180.0" fill="none" stroke="#1a1a1a" stroke-width="1"/>
<path d="M468.5,442.5v-4M468.5,262.5v4M487.5,442.5v-2M487.5,262.5v2M505.5,442.5v-2M505.5,262.5v2M523.5,442.5v-2M523.5,262.5v2M542.5,442.5v-2M542.5,262.5v2M560.5,442.5v-4M560.5,262.5v4M578.5,442.5v-2M578.5,262.5v2M597.5,442.5v-2M597.5,262.5v2M615.5,442.5v-2M615.5,262.5v2M633.5,442.5v-2M633.5,262.5v2M651.5,442.5v-4M651.5,262.5v4M670.5,442.5v-2M670.5,262.5v2M688.5,442.5v-2M688.5,262.5v2M706.5,442.5v-2M706.5,262.5v2M725.5,442.5v-2M725.5,262.5v2M743.5,442.5v-4M743.5,262.5v4M761.5,442.5v-2M761.5,262.5v2M779.5,442.5v-2M779.5,262.5v2M798.5,442.5v-2M798.5,262.5v2M816.5,442.5v-2M816.5,262.5v2M834.5,442.5v-4M834.5,262.5v4M853.5,442.5v-2M853.5,262.5v2M871.5,442.5v-2M871.5,262.5v2M889.5,442.5v-2M889.5,262.5v2M907.5,442.5v-2M907.5,262.5v2M926.5,442.5v-4M926.5,262.5v4" stroke="#1a1a1a" stroke-width="1" fill="none"/>
<path d="M450.5,433.5h5M944.5,433.5h-5M450.5,424.5h5M944.5,424.5h-5M450.5,415.5h5M944.5,415.5h-5M450.5,406.5h5M944.5,406.5h-5M450.5,397.5h10M944.5,397.5h-10M450.5,388.5h5M944.5,388.5h-5M450.5,379.5h5M944.5,379.5h-5M450.5,370.5h5M944.5,370.5h-5M450.5,361.5h5M944.5,361.5h-5M450.5,352.5h10M944.5,352.5h-10M450.5,344.5h5M944.5,344.5h-5M450.5,335.5h5M944.5,335.5h-5M450.5,326.5h5M944.5,326.5h-5M450.5,317.5h5M944.5,317.5h-5M450.5,308.5h10M944.5,308.5h-10M450.5,299.5h5M944.5,299.5h-5M450.5,290.5h5M944.5,290.5h-5M450.5,281.5h5M944.5,281.5h-5M450.5,272.5h5M944.5,272.5h-5M450.5,263.5h10M944.5,263.5h-10" stroke="#1a1a1a" stroke-width="1" fill="none"/>
<text x="421.49" y="268.76" font-size="8.3" fill="#2a2a2a" textLength="25.39" lengthAdjust="spacingAndGlyphs" >0.0010</text>
<text x="421.53" y="311.26" font-size="8.3" fill="#2a2a2a" textLength="25.39" lengthAdjust="spacingAndGlyphs" >0.0005</text>
<text x="421.49" y="356.26" font-size="8.3" fill="#2a2a2a" textLength="25.39" lengthAdjust="spacingAndGlyphs" >0.0000</text>
<text x="416.72" y="400.56" font-size="8.3" fill="#2a2a2a" textLength="30.23" lengthAdjust="spacingAndGlyphs" >−0.0005</text>
<text x="416.68" y="442.76" font-size="8.3" fill="#2a2a2a" textLength="30.23" lengthAdjust="spacingAndGlyphs" >−0.0010</text>
<text x="462.54" y="454.70" font-size="8.7" fill="#2a2a2a" textLength="12.83" lengthAdjust="spacingAndGlyphs" >2.5</text>
<text x="554.08" y="454.70" font-size="8.7" fill="#2a2a2a" textLength="12.69" lengthAdjust="spacingAndGlyphs" >3.0</text>
<text x="645.53" y="454.70" font-size="8.7" fill="#2a2a2a" textLength="12.73" lengthAdjust="spacingAndGlyphs" >3.5</text>
<text x="737.17" y="454.70" font-size="8.7" fill="#2a2a2a" textLength="12.50" lengthAdjust="spacingAndGlyphs" >4.0</text>
<text x="828.62" y="454.66" font-size="8.7" fill="#2a2a2a" textLength="12.54" lengthAdjust="spacingAndGlyphs" >4.5</text>
<text x="919.88" y="454.70" font-size="8.7" fill="#2a2a2a" textLength="12.69" lengthAdjust="spacingAndGlyphs" >5.0</text>
<text x="560.89" y="258.70" font-size="10.2" fill="#2a2a2a" textLength="271.41" lengthAdjust="spacingAndGlyphs" >Spectrum with emission lines expected at this redshift</text>
<text x="468.02" y="281.10" font-size="11" fill="#333" textLength="43.39" lengthAdjust="spacingAndGlyphs" >z=3.536</text>
<text x="815.60" y="281.00" font-size="10.6" fill="#333" textLength="71.79" lengthAdjust="spacingAndGlyphs" >AKARI pipeline</text>
<text x="467.31" y="415.50" font-size="8.4" fill="#e2323c" textLength="159.62" lengthAdjust="spacingAndGlyphs" >Emission lines shown (from left):</text>
<text x="467.48" y="429.30" font-size="8.4" fill="#e2323c" textLength="365.45" lengthAdjust="spacingAndGlyphs" >[OI], [OI], [NII], H−alpha, [NII], [SII], [SII], [OII], Pa−epsilon, Pa−delta, Pa−gamma</text>
<text x="653.65" y="463.47" font-size="8.8" fill="#222" textLength="87.55" lengthAdjust="spacingAndGlyphs" >Wavelength / microns</text>
<g transform="rotate(-90 407.24 352.00)"><text x="399.73" y="352.00" font-size="8.5" fill="#333" textLength="14.50" lengthAdjust="spacingAndGlyphs" >mJy</text></g>
<rect x="401" y="487" width="556" height="230" fill="#ffffff"/>
<clipPath id="c3"><rect x="449.5" y="502.5" width="491.0" height="180.0"/></clipPath>
<g clip-path="url(#c3)"><path d="M532,502.5V682.5" stroke="#cc2a40" stroke-width="2" stroke-dasharray="1.4,3.35" opacity="0.6"/><path d="M537.1,502.5V682.5" stroke="#cc2a40" stroke-width="2" stroke-dasharray="1.4,3.35" opacity="0.6"/><path d="M553.4,502.5V682.5" stroke="#cc2a40" stroke-width="5.5" stroke-dasharray="1.4,3.35" opacity="0.75"/><path d="M566.9,502.5V682.5" stroke="#cc2a40" stroke-width="4" stroke-dasharray="1.4,3.35" opacity="0.75"/><path d="M616.2,502.5V682.5" stroke="#cc2a40" stroke-width="2" stroke-dasharray="1.4,3.35" opacity="0.6"/><path d="M799.6,502.5V682.5" stroke="#cc2a40" stroke-width="2" stroke-dasharray="1.4,3.35" opacity="0.6"/><path d="M837.2,502.5V682.5" stroke="#cc2a40" stroke-width="2" stroke-dasharray="1.4,3.35" opacity="0.6"/><path d="M911.3,502.5V682.5" stroke="#cc2a40" stroke-width="2" stroke-dasharray="1.4,3.35" opacity="0.6"/><polyline points="449.50,592.30 474.31,592.30" fill="none" stroke="#000" stroke-width="1" stroke-linejoin="round" /><path d="M474.31,592.29C474.59,597.14 475.44,619.37 476.00,621.40C476.57,623.43 476.99,610.40 477.69,604.48C478.40,598.55 479.53,587.83 480.23,585.86C480.94,583.88 481.36,590.09 481.93,592.63C482.49,595.17 482.91,603.06 483.62,601.09C484.32,599.12 485.31,585.43 486.16,580.78C487.00,576.12 487.85,571.75 488.70,573.16C489.54,574.57 490.39,584.59 491.24,589.24C492.08,593.90 492.93,597.70 493.77,601.09C494.62,604.48 495.47,610.68 496.31,609.55C497.16,608.42 498.15,597.70 498.85,594.32C499.56,590.93 499.84,588.68 500.55,589.24C501.25,589.81 502.24,596.86 503.08,597.70C503.93,598.55 504.64,597.42 505.62,594.32C506.61,591.22 508.02,579.37 509.01,579.09C510.00,578.80 510.70,589.95 511.55,592.63C512.39,595.31 513.38,595.17 514.09,595.17C514.79,595.17 514.99,591.92 515.78,592.63C516.57,593.33 517.98,599.12 518.83,599.40C519.67,599.68 520.24,596.29 520.86,594.32C521.48,592.34 521.93,587.41 522.55,587.55C523.17,587.69 523.87,594.60 524.58,595.17C525.29,595.73 525.99,592.06 526.78,590.93C527.57,589.81 528.47,589.66 529.32,588.40C530.17,587.13 531.01,582.61 531.86,583.32C532.70,584.02 533.55,588.82 534.40,592.63C535.24,596.44 536.09,602.92 536.94,606.17C537.78,609.41 538.63,614.07 539.48,612.09C540.32,610.12 541.17,600.95 542.01,594.32C542.86,587.69 543.85,576.41 544.55,572.32C545.26,568.23 545.68,571.19 546.25,569.78C546.81,568.37 547.37,566.25 547.94,563.85C548.50,561.45 549.07,557.65 549.63,555.39C550.20,553.13 550.82,551.72 551.32,550.31C551.83,548.90 552.11,545.23 552.68,546.93C553.24,548.62 553.95,555.11 554.71,560.47C555.47,565.83 556.40,574.85 557.25,579.09C558.09,583.32 559.08,584.16 559.79,585.86C560.49,587.55 560.77,587.55 561.48,589.24C562.18,590.93 563.23,595.73 564.02,596.01C564.81,596.29 565.51,591.64 566.22,590.93C566.92,590.23 567.49,593.61 568.25,591.78C569.01,589.95 569.94,581.20 570.79,579.93C571.64,578.66 572.62,583.88 573.33,584.16C574.03,584.45 574.32,581.62 575.02,581.62C575.73,581.62 576.71,577.39 577.56,584.16C578.41,590.93 579.39,618.58 580.10,622.25C580.80,625.92 581.23,610.40 581.79,606.17C582.35,601.94 582.78,599.12 583.48,596.86C584.19,594.60 585.18,595.45 586.02,592.63C586.87,589.81 587.71,580.21 588.56,579.93C589.41,579.65 590.25,589.38 591.10,590.93C591.95,592.49 592.69,589.22 593.64,589.24C594.58,589.27 595.68,586.97 596.77,591.09C597.86,595.21 599.03,613.24 600.16,613.94C601.28,614.65 602.41,595.32 603.54,595.32C604.67,595.32 605.66,612.67 606.93,613.94C608.20,615.21 609.89,610.98 611.16,602.94C612.43,594.90 613.56,569.09 614.54,565.70C615.53,562.32 616.24,576.70 617.08,582.63C617.93,588.55 618.77,596.03 619.62,601.25C620.47,606.46 621.17,616.90 622.16,613.94C623.15,610.98 624.56,586.44 625.55,583.47C626.53,580.51 627.24,589.54 628.08,596.17C628.93,602.80 629.58,626.92 630.62,623.25C631.67,619.58 633.36,580.37 634.35,574.16C635.33,567.96 635.76,581.92 636.55,586.01C637.34,590.10 638.10,603.64 639.09,598.71C640.07,593.77 641.48,553.43 642.47,556.39C643.46,559.35 644.16,606.89 645.01,616.48C645.86,626.07 646.70,615.35 647.55,613.94C648.40,612.53 649.02,613.24 650.09,608.02C651.16,602.80 652.85,583.19 653.98,582.63C655.11,582.06 655.53,599.69 656.86,604.63C658.18,609.57 660.38,615.92 661.94,612.25C663.49,608.58 664.90,585.59 666.17,582.63C667.44,579.66 668.42,590.81 669.55,594.48C670.68,598.14 671.81,607.17 672.94,604.63C674.07,602.09 675.48,585.45 676.32,579.24C677.17,573.04 677.40,576.14 678.02,567.39C678.64,558.65 679.34,526.49 680.05,526.77C680.75,527.05 681.60,559.07 682.25,569.09C682.90,579.10 683.09,586.86 683.94,586.86C684.79,586.86 686.06,568.10 687.33,569.09C688.60,570.07 690.23,595.18 691.56,592.78C692.88,590.38 693.87,554.28 695.28,554.70C696.69,555.12 698.67,590.95 700.02,595.32C701.37,599.69 702.42,587.85 703.41,580.93C704.39,574.02 705.10,562.32 705.94,553.85C706.79,545.39 707.64,527.33 708.48,530.16C709.33,532.98 710.18,557.66 711.02,570.78C711.87,583.90 712.57,606.46 713.56,608.86C714.55,611.26 716.14,587.85 716.95,585.17C717.75,582.49 717.81,588.83 718.39,592.78C718.96,596.73 719.71,608.58 720.42,608.86C721.12,609.14 721.83,598.85 722.62,594.48C723.41,590.10 724.31,586.29 725.16,582.63C726.00,578.96 726.79,579.24 727.69,572.47C728.60,565.70 729.58,542.29 730.57,542.00C731.56,541.72 732.55,564.85 733.62,570.78C734.69,576.70 735.93,574.16 737.00,577.55C738.08,580.93 739.06,592.22 740.05,591.09C741.04,589.96 741.88,577.27 742.93,570.78C743.97,564.29 745.33,553.85 746.31,552.16C747.30,550.47 748.01,559.35 748.85,560.62C749.70,561.89 750.40,558.65 751.39,559.78C752.38,560.90 753.65,559.35 754.78,567.39C755.90,575.43 757.17,602.37 758.16,608.02C759.15,613.66 759.85,604.07 760.70,601.25C761.55,598.42 762.39,596.17 763.24,591.09C764.09,586.01 765.07,576.42 765.78,570.78C766.48,565.14 766.77,553.29 767.47,557.24C768.18,561.19 769.02,589.96 770.01,594.48C771.00,598.99 772.27,581.78 773.40,584.32C774.52,586.86 775.65,609.43 776.78,609.71C777.91,609.99 779.32,589.40 780.17,586.01C781.01,582.63 781.15,585.87 781.86,589.40C782.56,592.92 783.55,608.86 784.40,607.17C785.24,605.48 786.17,587.70 786.94,579.24C787.70,570.78 788.26,557.24 788.97,556.39C789.67,555.55 790.38,564.29 791.17,574.16C791.96,584.04 792.92,613.38 793.71,615.63C794.50,617.89 795.20,593.77 795.91,587.70C796.61,581.64 797.18,578.96 797.94,579.24C798.70,579.52 799.63,587.99 800.48,589.40C801.32,590.81 802.03,588.69 803.02,587.70C804.00,586.72 805.41,583.76 806.40,583.47C807.39,583.19 808.09,588.13 808.94,586.01C809.79,583.90 810.72,575.86 811.48,570.78C812.24,565.70 812.81,556.53 813.51,555.55C814.22,554.56 814.78,566.41 815.71,564.85C816.64,563.30 817.97,542.71 819.10,546.24C820.22,549.76 821.49,579.95 822.48,586.01C823.47,592.08 824.17,582.34 825.02,582.63C825.87,582.91 826.57,593.06 827.56,587.70C828.55,582.34 830.01,551.03 830.94,550.47C831.88,549.90 832.38,577.55 833.14,584.32C833.91,591.09 834.75,588.83 835.51,591.09C836.28,593.35 836.98,595.89 837.71,597.86C838.45,599.84 839.23,606.65 839.92,602.94C840.60,599.23 841.13,585.86 841.83,575.62C842.53,565.37 843.43,542.21 844.11,541.45C844.79,540.69 845.36,562.71 845.93,571.06C846.50,579.41 846.88,593.84 847.53,591.56C848.17,589.28 849.16,569.54 849.81,557.39C850.45,545.24 850.83,521.32 851.40,518.67C851.97,516.01 852.62,532.71 853.22,541.45C853.83,550.18 854.29,565.36 855.05,571.06C855.80,576.75 856.94,572.20 857.78,575.62C858.61,579.03 859.22,585.11 860.06,591.56C860.89,598.01 861.96,615.86 862.79,614.34C863.63,612.82 864.31,591.37 865.07,582.45C865.83,573.53 866.66,561.95 867.35,560.81C868.03,559.67 868.37,561.76 869.17,575.62C869.97,589.47 871.29,635.98 872.13,643.95C872.97,651.92 873.46,632.94 874.18,623.45C874.90,613.96 875.58,582.26 876.46,587.00C877.33,591.75 878.62,651.17 879.42,651.92C880.22,652.68 880.56,611.30 881.24,591.56C881.92,571.82 882.80,536.89 883.52,533.47C884.24,530.06 884.73,567.64 885.57,571.06C886.40,574.48 887.47,553.97 888.53,553.97C889.59,553.97 890.73,560.62 891.95,571.06C893.16,581.50 894.68,613.20 895.82,616.62C896.96,620.03 897.83,599.34 898.78,591.56C899.73,583.78 900.68,568.40 901.51,569.92C902.35,571.44 903.11,590.61 903.79,600.67C904.48,610.73 905.01,626.11 905.62,630.28C906.22,634.46 906.91,621.55 907.44,625.73C907.97,629.91 908.27,656.48 908.80,655.34C909.34,654.20 909.83,634.65 910.63,618.90C911.42,603.14 912.71,569.73 913.59,560.81C914.46,551.89 915.30,563.28 915.87,565.36C916.44,567.45 916.44,561.76 917.00,573.34C917.57,584.92 918.83,631.61 919.28,634.84C919.74,638.07 919.66,599.72 919.74,592.70" fill="none" stroke="#000" stroke-width="1" /><polyline points="919.74,592.60 940.50,592.60" fill="none" stroke="#000" stroke-width="1" stroke-linejoin="round" /></g>
<rect x="449.5" y="502.5" width="491.0" height="180.0" fill="none" stroke="#1a1a1a" stroke-width="1"/>
<path d="M450.5,682.5v-2M450.5,502.5v2M468.5,682.5v-4M468.5,502.5v4M486.5,682.5v-2M486.5,502.5v2M505.5,682.5v-2M505.5,502.5v2M523.5,682.5v-2M523.5,502.5v2M541.5,682.5v-2M541.5,502.5v2M559.5,682.5v-4M559.5,502.5v4M577.5,682.5v-2M577.5,502.5v2M595.5,682.5v-2M595.5,502.5v2M613.5,682.5v-2M613.5,502.5v2M632.5,682.5v-2M632.5,502.5v2M650.5,682.5v-4M650.5,502.5v4M668.5,682.5v-2M668.5,502.5v2M686.5,682.5v-2M686.5,502.5v2M704.5,682.5v-2M704.5,502.5v2M722.5,682.5v-2M722.5,502.5v2M740.5,682.5v-4M740.5,502.5v4M759.5,682.5v-2M759.5,502.5v2M777.5,682.5v-2M777.5,502.5v2M795.5,682.5v-2M795.5,502.5v2M813.5,682.5v-2M813.5,502.5v2M831.5,682.5v-4M831.5,502.5v4M849.5,682.5v-2M849.5,502.5v2M867.5,682.5v-2M867.5,502.5v2M886.5,682.5v-2M886.5,502.5v2M904.5,682.5v-2M904.5,502.5v2M922.5,682.5v-4M922.5,502.5v4" stroke="#1a1a1a" stroke-width="1" fill="none"/>
<path d="M449.5,677.5h5M940.5,677.5h-5M449.5,673.5h5M940.5,673.5h-5M449.5,668.5h5M940.5,668.5h-5M449.5,664.5h5M940.5,664.5h-5M449.5,659.5h5M940.5,659.5h-5M449.5,655.5h5M940.5,655.5h-5M449.5,650.5h5M940.5,650.5h-5M449.5,646.5h5M940.5,646.5h-5M449.5,641.5h5M940.5,641.5h-5M449.5,637.5h10M940.5,637.5h-10M449.5,632.5h5M940.5,632.5h-5M449.5,628.5h5M940.5,628.5h-5M449.5,623.5h5M940.5,623.5h-5M449.5,619.5h5M940.5,619.5h-5M449.5,614.5h5M940.5,614.5h-5M449.5,610.5h5M940.5,610.5h-5M449.5,605.5h5M940.5,605.5h-5M449.5,601.5h5M940.5,601.5h-5M449.5,596.5h5M940.5,596.5h-5M449.5,592.5h10M940.5,592.5h-10M449.5,587.5h5M940.5,587.5h-5M449.5,583.5h5M940.5,583.5h-5M449.5,578.5h5M940.5,578.5h-5M449.5,574.5h5M940.5,574.5h-5M449.5,569.5h5M940.5,569.5h-5M449.5,565.5h5M940.5,565.5h-5M449.5,560.5h5M940.5,560.5h-5M449.5,556.5h5M940.5,556.5h-5M449.5,551.5h5M940.5,551.5h-5M449.5,547.5h10M940.5,547.5h-10M449.5,542.5h5M940.5,542.5h-5M449.5,538.5h5M940.5,538.5h-5M449.5,533.5h5M940.5,533.5h-5M449.5,529.5h5M940.5,529.5h-5M449.5,524.5h5M940.5,524.5h-5M449.5,520.5h5M940.5,520.5h-5M449.5,515.5h5M940.5,515.5h-5M449.5,511.5h5M940.5,511.5h-5M449.5,506.5h5M940.5,506.5h-5" stroke="#1a1a1a" stroke-width="1" fill="none"/>
<text x="424.97" y="508.26" font-size="8.3" fill="#2a2a2a" textLength="20.77" lengthAdjust="spacingAndGlyphs" >0.002</text>
<text x="424.92" y="550.86" font-size="8.3" fill="#2a2a2a" textLength="20.77" lengthAdjust="spacingAndGlyphs" >0.001</text>
<text x="424.84" y="596.06" font-size="8.3" fill="#2a2a2a" textLength="20.77" lengthAdjust="spacingAndGlyphs" >0.000</text>
<text x="420.07" y="640.76" font-size="8.3" fill="#2a2a2a" textLength="25.62" lengthAdjust="spacingAndGlyphs" >−0.001</text>
<text x="420.11" y="683.26" font-size="8.3" fill="#2a2a2a" textLength="25.62" lengthAdjust="spacingAndGlyphs" >−0.002</text>
<text x="462.34" y="695.40" font-size="8.7" fill="#2a2a2a" textLength="12.83" lengthAdjust="spacingAndGlyphs" >2.5</text>
<text x="553.13" y="695.40" font-size="8.7" fill="#2a2a2a" textLength="12.69" lengthAdjust="spacingAndGlyphs" >3.0</text>
<text x="643.83" y="695.40" font-size="8.7" fill="#2a2a2a" textLength="12.73" lengthAdjust="spacingAndGlyphs" >3.5</text>
<text x="734.72" y="695.40" font-size="8.7" fill="#2a2a2a" textLength="12.50" lengthAdjust="spacingAndGlyphs" >4.0</text>
<text x="825.42" y="695.36" font-size="8.7" fill="#2a2a2a" textLength="12.54" lengthAdjust="spacingAndGlyphs" >4.5</text>
<text x="915.93" y="695.40" font-size="8.7" fill="#2a2a2a" textLength="12.69" lengthAdjust="spacingAndGlyphs" >5.0</text>
<text x="559.29" y="497.90" font-size="10.2" fill="#2a2a2a" textLength="269.71" lengthAdjust="spacingAndGlyphs" >Spectrum with emission lines expected at this redshift</text>
<text x="466.21" y="520.50" font-size="11" fill="#333" textLength="43.69" lengthAdjust="spacingAndGlyphs" >z=3.536</text>
<text x="813.52" y="520.50" font-size="10.6" fill="#333" textLength="56.17" lengthAdjust="spacingAndGlyphs" >OU pipeline</text>
<text x="466.11" y="655.60" font-size="8.4" fill="#e2323c" textLength="160.53" lengthAdjust="spacingAndGlyphs" >Emission lines shown (from left):</text>
<text x="466.29" y="668.80" font-size="8.4" fill="#e2323c" textLength="363.44" lengthAdjust="spacingAndGlyphs" >[OI], [OI], [NII], H−alpha, [NII], [SII], [SII], [OII], Pa−epsilon, Pa−delta, Pa−gamma</text>
<text x="651.35" y="704.57" font-size="8.8" fill="#222" textLength="86.24" lengthAdjust="spacingAndGlyphs" >Wavelength / microns</text>
<g transform="rotate(-90 411.14 592.00)"><text x="403.63" y="592.00" font-size="8.5" fill="#333" textLength="14.50" lengthAdjust="spacingAndGlyphs" >mJy</text></g>
<rect x="954.5" y="487" width="2.5" height="230" fill="#c4c4c4"/><rect x="401" y="714.5" width="556" height="2.5" fill="#c4c4c4"/>
<defs><linearGradient id="lg" x1="0" y1="0" x2="0" y2="1">
<stop offset="0" stop-color="#d2f0fa"/><stop offset="0.55" stop-color="#c4ebf8"/><stop offset="0.78" stop-color="#a6def2"/><stop offset="0.9" stop-color="#86cde8"/><stop offset="1" stop-color="#c0eaf8"/></linearGradient></defs>
<path d="M972.6,9 H1015.4 V38.5 C1015.4,52.5 1006,60.8 994,60.8 C982,60.8 972.6,52.5 972.6,38.5 Z" fill="url(#lg)" stroke="#100c0c" stroke-width="1.8"/>
<circle cx="988.2" cy="25.2" r="10.4" fill="#1e1a1a" stroke="#0c1216" stroke-width="2.4"/>
</svg>
</body></html>
